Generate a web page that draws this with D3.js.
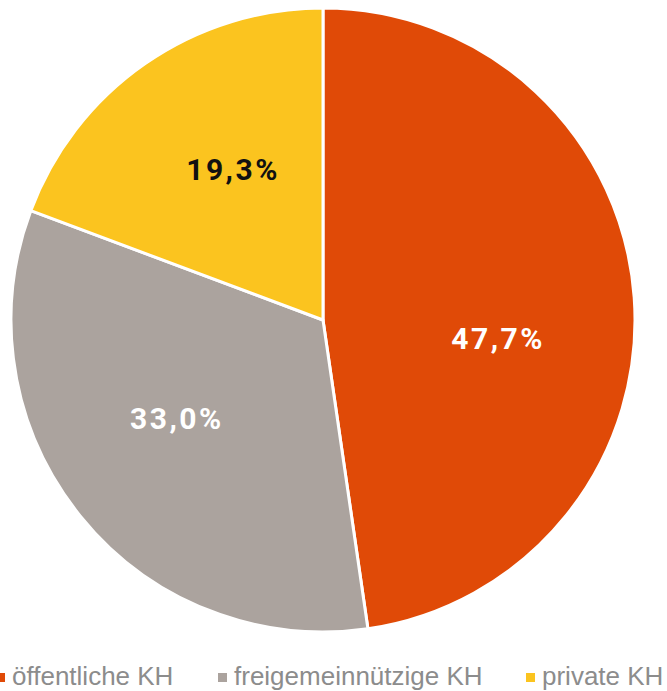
<!DOCTYPE html>
<html lang="de">
<head>
<meta charset="utf-8" />
<title>Krankenhäuser nach Trägerschaft</title>
<script src="https://d3js.org/d3.v7.min.js"></script>
<style>
  body { margin: 0; background: #fff; }
  .label { font-family: Roboto, "DejaVu Sans", sans-serif; font-weight: 700; font-size: 30px; letter-spacing: 2.5px; }
  .legend text { font-family: "Liberation Sans", Arial, sans-serif; font-size: 26px; fill: #8c8c8c; }
</style>
</head>
<body>
<svg width="667" height="691"></svg>
<script>
  var categories = ["öffentliche KH", "freigemeinnützige KH", "private KH"];
  var values = [47.7, 33.0, 19.3];
  var labels = ["47,7%", "33,0%", "19,3%"];
  var colors = ["#E04A07", "#ABA39E", "#FBC41F"];
  var labelColors = ["#fff", "#fff", "#111"];
  // small angular nudge (degrees) for the data labels, like Excel's "best fit"
  var labelShift = [10, 5, 4];

  var svg = d3.select("svg");
  var cx = 323, cy = 320, r = 312, lr = 176;

  var data = categories.map(function (c, i) {
    return { name: c, value: values[i], label: labels[i], color: colors[i], lc: labelColors[i], shift: labelShift[i] };
  });

  var pie = d3.pie().sort(null).value(function (d) { return d.value; });
  var arc = d3.arc().innerRadius(0).outerRadius(r);

  var g = svg.append("g").attr("transform", "translate(" + cx + "," + cy + ")");
  var arcs = pie(data);

  g.selectAll("path").data(arcs).enter().append("path")
      .attr("d", arc)
      .attr("fill", function (d) { return d.data.color; })
      .attr("stroke", "#fff")
      .attr("stroke-width", 3)
      .attr("stroke-linejoin", "round");

  g.selectAll("text.label").data(arcs).enter().append("text")
      .attr("class", "label")
      .attr("transform", function (d) {
        var a = (d.startAngle + d.endAngle) / 2 + d.data.shift * Math.PI / 180;
        return "translate(" + (lr * Math.sin(a)) + "," + (-lr * Math.cos(a)) + ")";
      })
      .attr("text-anchor", "middle")
      .attr("dy", "0.36em")
      .attr("fill", function (d) { return d.data.lc; })
      .text(function (d) { return d.data.label; });

  // legend
  var legendX = [-4, 218, 526];
  var legend = svg.append("g").attr("class", "legend");
  var items = legend.selectAll("g").data(data).enter().append("g")
      .attr("transform", function (d, i) { return "translate(" + legendX[i] + ",0)"; });
  items.append("rect")
      .attr("x", 0).attr("y", 673).attr("width", 9).attr("height", 9)
      .attr("fill", function (d) { return d.color; });
  items.append("text")
      .attr("x", 16).attr("y", 685)
      .text(function (d) { return d.name; });
</script>
</body>
</html>
